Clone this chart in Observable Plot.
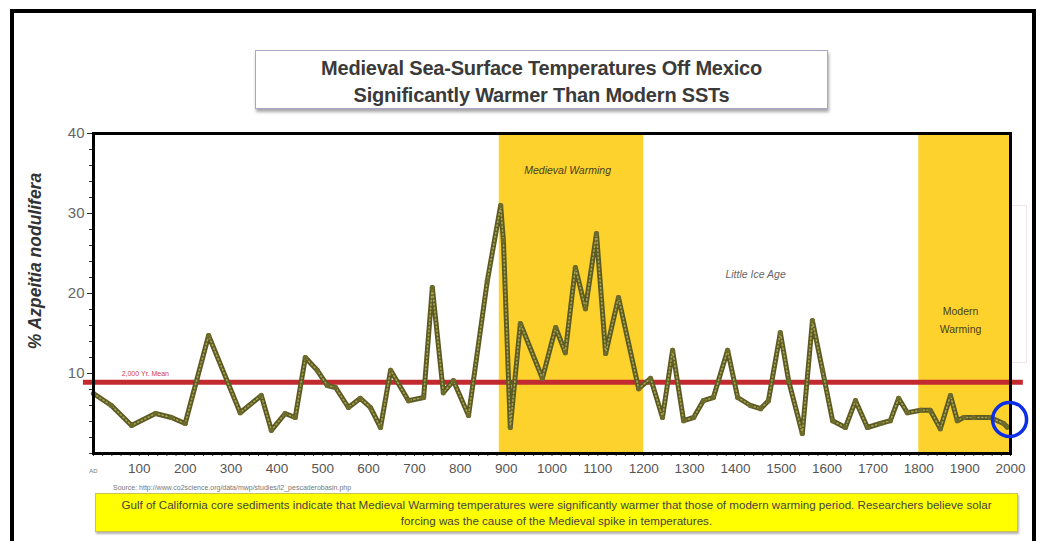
<!DOCTYPE html>
<html><head><meta charset="utf-8">
<script src="https://cdn.jsdelivr.net/npm/d3@7"></script>
<script src="https://cdn.jsdelivr.net/npm/@observablehq/plot@0.6"></script>
<style>
html,body{margin:0;padding:0;background:#fff;width:1040px;height:541px;overflow:hidden;font-family:"Liberation Sans",Arial,sans-serif;}
#frame{position:absolute;left:10px;top:9px;width:1018px;height:600px;border:4px solid #000;border-bottom:none;}
#title{position:absolute;left:255px;top:50px;width:573px;height:59px;border:1px solid #a9a5c6;box-shadow:1px 3px 3px rgba(0,0,0,0.35);background:#fff;text-align:center;font-weight:bold;font-size:20px;color:#3a3a3a;line-height:27px;padding-top:4px;box-sizing:border-box;letter-spacing:-0.2px}
#chart{position:absolute;left:0;top:120px;}
#ylab{position:absolute;left:35px;top:261px;transform:translate(-50%,-50%) rotate(-90deg);white-space:nowrap;font-weight:bold;font-style:italic;font-size:17.5px;color:#333;}
#source{position:absolute;left:113px;top:484px;font-size:7px;color:#777;white-space:nowrap}
#caption{position:absolute;left:95px;top:493px;width:923px;height:39px;background:#ffff00;border:1px solid #c9c25a;box-shadow:1px 2px 2px rgba(0,0,0,.3);font-size:11.6px;color:#444;text-align:center;line-height:16px;padding-top:3px;box-sizing:border-box}
#wm{position:absolute;left:990px;top:205px;width:37px;height:158px;border:1px solid #f0e4e4;box-sizing:border-box}
#wm span{position:absolute;left:10px;top:50%;transform:translate(-50%,-50%) rotate(-90deg);white-space:nowrap;font-size:8px;color:#e2dccb}
</style>
</head><body>
<div id="frame"></div>
<div id="title">Medieval Sea-Surface Temperatures Off Mexico<br>Significantly Warmer Than Modern SSTs</div>
<div id="wm"><span>www.C3Headlines.com</span></div>
<div id="chart"></div>
<div id="ylab">% Azpeitia nodulifera</div>
<div id="source">Source: http://www.co2science.org/data/mwp/studies/l2_pescaderobasin.php</div>
<div id="caption">Gulf of California core sediments indicate that Medieval Warming temperatures were significantly warmer that those of modern warming period. Researchers believe solar<br>forcing was the cause of the Medieval spike in temperatures.</div>
<script>
// Data
const years = [0, 39, 83, 135, 170, 200, 251, 320, 366, 388, 418, 440, 462, 488, 510, 528, 556, 582, 604, 626, 648, 687, 720, 739, 763, 785, 818, 859, 888, 894, 909, 931, 979, 1008, 1029, 1051, 1073, 1097, 1117, 1145, 1189, 1215, 1241, 1263, 1287, 1309, 1330, 1352, 1383, 1405, 1433, 1455, 1472, 1498, 1516, 1546, 1568, 1590, 1612, 1640, 1662, 1688, 1716, 1738, 1756, 1775, 1804, 1825, 1847, 1869, 1884, 1898, 1919, 1956, 1985, 1993];
const values = [7.5, 6.0, 3.5, 5.0, 4.5, 3.75, 14.75, 5.1, 7.25, 2.9, 5.0, 4.5, 12.0, 10.4, 8.5, 8.25, 5.75, 6.9, 5.75, 3.25, 10.4, 6.6, 7.0, 20.75, 7.6, 9.1, 4.75, 21.6, 31, 26.6, 3.25, 16.25, 9.4, 15.75, 12.6, 23.25, 18.1, 27.5, 12.5, 19.5, 8.1, 9.4, 4.5, 12.9, 4.1, 4.5, 6.6, 7.0, 12.9, 7.0, 6.0, 5.6, 6.6, 15.1, 9.1, 2.5, 16.6, 10.4, 4.1, 3.25, 6.6, 3.25, 3.75, 4.1, 6.9, 5.1, 5.4, 5.4, 3.1, 7.25, 4.1, 4.5, 4.5, 4.5, 3.75, 3.3];
const periodNames = ["Medieval Warming", "Modern Warming"];
const periodStart = [885, 1800];
const periodEnd = [1200, 2000];
const meanValue = 8.9;
const meanFrom = -22;
const meanTo = 2028;
const highlightYear = [1998];
const highlightValue = [4.25];
const xTicks = [100,200,300,400,500,600,700,800,900,1000,1100,1200,1300,1400,1500,1600,1700,1800,1900,2000];
const yTicks = [10,20,30,40];

const series = years.map((y,i)=>({year:y, value:values[i]}));
const periods = periodNames.map((n,i)=>({name:n, start:periodStart[i], end:periodEnd[i]}));
const mean = [{value:meanValue, from:meanFrom, to:meanTo}];
const highlight = highlightYear.map((y,i)=>({year:y, value:highlightValue[i]}));

const chart = Plot.plot({
  width:1040, height:365,
  marginLeft:93, marginRight:30, marginTop:13, marginBottom:32,
  style:{background:"transparent", fontFamily:"Liberation Sans, Arial, sans-serif"},
  x:{domain:[0,2000], label:null},
  y:{domain:[0,40], label:null},
  marks:[
    Plot.rect(periods, {x1:"start", x2:"end", fill:"#fdd22c"}),
    Plot.text(["Medieval Warming"], {x:1034, y:35.4, fontStyle:"italic", fontSize:10.5, fill:"#4a4020"}),
    Plot.text(["Little Ice Age"], {x:1444, y:22.3, fontStyle:"italic", fontSize:10.5, fill:"#666"}),
    Plot.text(["Modern\nWarming"], {x:1891, y:16.9, fontSize:10.5, fill:"#4a4020", lineHeight:1.75}),
    Plot.ruleY(mean, {y:"value", x1:"from", x2:"to", stroke:"#c22a30", strokeWidth:5}),
    Plot.text(["2,000 Yr. Mean"], {x:113, y:10.0, fontSize:7, fill:"#d04040"}),
    Plot.line(series, {x:"year", y:"value", stroke:"#5c5a24", strokeWidth:5, strokeLinejoin:"round", strokeLinecap:"round"}),
    Plot.line(series, {x:"year", y:"value", stroke:"#a6a24c", strokeWidth:1.6, strokeDasharray:"1.2 2.6"}),
    Plot.dot(series, {x:"year", y:"value", r:2.6, fill:"#6e6c2c"}),
    Plot.axisY({ticks:d3.range(0,41,2), tickSize:4, text:null, stroke:"#333", label:null}),
    Plot.axisY({ticks:yTicks, tickSize:6, tickPadding:3, fontSize:15, fill:"#666", stroke:"#222", label:null}),
    Plot.axisX({ticks:d3.range(0,2001,20), tickSize:3, text:null, stroke:"#333", label:null}),
    Plot.axisX({ticks:xTicks, tickSize:0, tickPadding:10, fontSize:13.5, fill:"#555", label:null, tickFormat:d => String(d)}),
    Plot.text(["AD"], {x:0, y:0, dy:18, fontSize:6, fill:"#777"}),
    Plot.frame({stroke:"#000", strokeWidth:3}),
    Plot.dot(highlight, {x:"year", y:"value", r:17, stroke:"#0a2fe6", strokeWidth:3.5, fill:"none"})
  ]
});
document.getElementById("chart").appendChild(chart);
</script>
</body></html>
